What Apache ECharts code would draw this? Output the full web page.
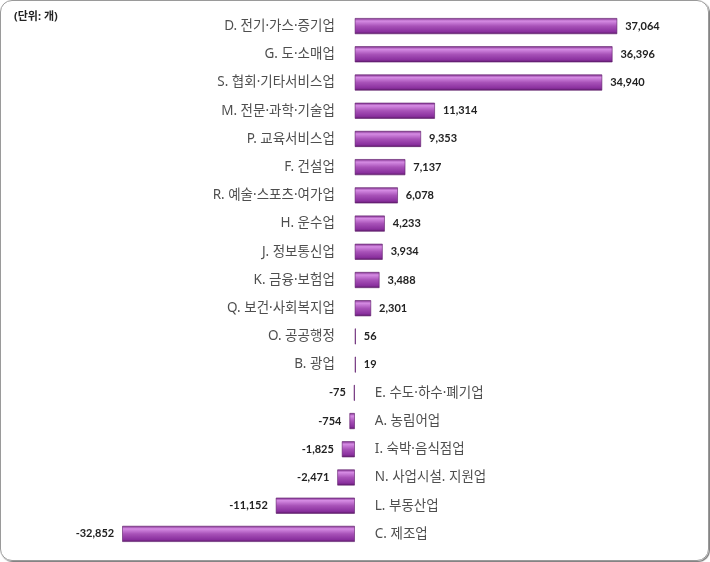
<!DOCTYPE html>
<html>
<head>
<meta charset="utf-8">
<script src="https://cdn.jsdelivr.net/npm/echarts@6/dist/echarts.min.js"></script>
<style>
    html, body { margin: 0; padding: 0; background: #fff; }
    #main {
        position: absolute; left: 0; top: 0;
        width: 707px; height: 559px;
        border: 1px solid #9a9a9a;
        border-radius: 12px;
        box-shadow: 1px 1px 1px #777;
        overflow: hidden;
    }
</style>
</head>
<body>
<div id="main"></div>
<script type="text/javascript">
    // 업종별 증감 (단위: 개)
    var categories = ['D. 전기·가스·증기업', 'G. 도·소매업', 'S. 협회·기타서비스업', 'M. 전문·과학·기술업',
        'P. 교육서비스업', 'F. 건설업', 'R. 예술·스포츠·여가업', 'H. 운수업', 'J. 정보통신업',
        'K. 금융·보험업', 'Q. 보건·사회복지업', 'O. 공공행정', 'B. 광업', 'E. 수도·하수·폐기업',
        'A. 농림어업', 'I. 숙박·음식점업', 'N. 사업시설. 지원업', 'L. 부동산업', 'C. 제조업'];
    var values = [37064, 36396, 34940, 11314, 9353, 7137, 6078, 4233, 3934,
        3488, 2301, 56, 19, -75, -754, -1825, -2471, -11152, -32852];

    var myChart = echarts.init(document.getElementById('main'));

    var purple = new echarts.graphic.LinearGradient(0, 0, 0, 1, [
        {offset: 0, color: '#7a2a88'},
        {offset: 0.18, color: '#d68ce4'},
        {offset: 0.5, color: '#a852b8'},
        {offset: 0.85, color: '#8a309e'},
        {offset: 1, color: '#5a1a66'}
    ]);

    var barData = values.map(function (v) {
        return {
            value: v,
            label: {position: v >= 0 ? 'right' : 'left'}
        };
    });
    var nameData = categories.map(function (c, i) {
        return {
            value: [0, c],
            label: {position: values[i] >= 0 ? 'left' : 'right'}
        };
    });

    var option = {
        animation: false,
        title: {
            text: '(단위: 개)',
            left: 8,
            top: 5,
            textStyle: {fontSize: 11, fontWeight: 'bold', color: '#222', fontFamily: 'Noto Sans, Noto Sans CJK KR'}
        },
        grid: {left: 106, width: 531, top: 11, height: 536},
        xAxis: {
            type: 'value',
            min: -35000,
            max: 40000,
            show: false
        },
        yAxis: {
            type: 'category',
            data: categories,
            inverse: true,
            show: false
        },
        series: [
            {
                type: 'bar',
                data: barData,
                barWidth: 16,
                barMinHeight: 1,
                itemStyle: {color: purple, borderColor: '#5c1a68', borderWidth: 0.6},
                label: {
                    show: true,
                    distance: 8,
                    fontSize: 11,
                    fontWeight: 'bold',
                    color: '#222',
                    fontFamily: 'Lato',
                    formatter: function (p) {
                        return echarts.format.addCommas(p.value);
                    }
                }
            },
            {
                type: 'scatter',
                data: nameData,
                symbolSize: 0,
                silent: true,
                label: {
                    show: true,
                    distance: 20,
                    fontSize: 13.5,
                    color: '#222',
                    fontFamily: 'Noto Sans, Noto Sans CJK KR',
                    formatter: function (p) {
                        return p.value[1];
                    }
                }
            }
        ]
    };

    myChart.setOption(option);
</script>
</body>
</html>
